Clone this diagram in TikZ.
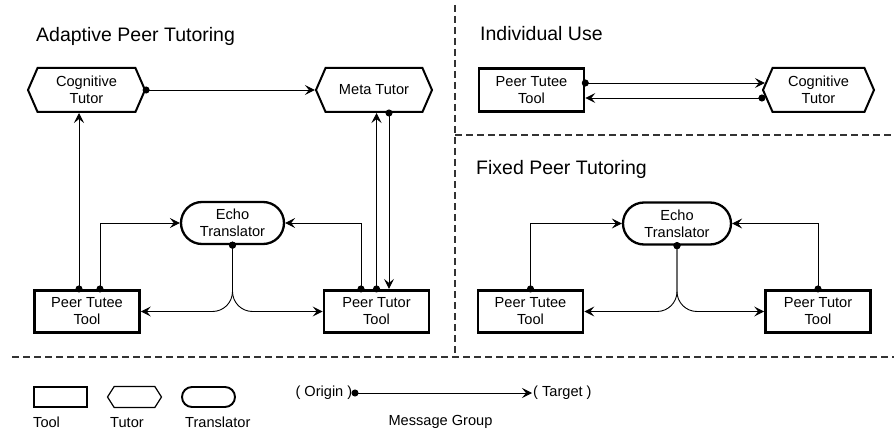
\documentclass[tikz,border=0pt]{standalone}
\usepackage{fontspec}
\setmainfont{Liberation Sans}
\usetikzlibrary{arrows.meta,shapes.misc,shapes.symbols,calc}
\tikzset{
  lbl/.style={font=\fontsize{14.6}{17}\selectfont, align=center},
  tool/.style={lbl, draw, line width=2.6pt, rectangle, inner sep=0pt,
    minimum width=105pt, minimum height=42.5pt},
  tutor/.style={lbl, draw, line width=2pt, shape=signal, signal to=east and west,
    signal pointer angle=133, inner sep=0pt, minimum height=44pt},
  translator/.style={lbl, draw, line width=2.3pt, rounded rectangle, inner sep=0pt,
    minimum height=42pt},
  msg/.style={line width=0.9pt,
    {Circle[length=7pt]}-{Stealth[length=10pt,width=10pt,inset=4pt]},
    shorten <=-3.5pt},
  divider/.style={line width=1.1pt, draw=black!80, dash pattern=on 7pt off 4pt},
  title/.style={font=\fontsize{19.5}{22}\selectfont, anchor=base west, inner sep=0pt},
  keylbl/.style={lbl, anchor=base west, inner sep=0pt},
}
\begin{document}
\begin{tikzpicture}[x=1pt, y=-1pt]
\useasboundingbox (0,0) rectangle (894,433);

% section dividers
\draw[divider] (455,5) -- (455,357);
\draw[divider] (12,357) -- (894,357);
\draw[divider] (455,135) -- (894,135);

% section titles
\node[title] (tA) at (36,42) {Adaptive Peer Tutoring};
\node[title] (tI) at (480,41) {Individual Use};
\node[title] (tF) at (476,175) {Fixed Peer Tutoring};

% ---- adaptive peer tutoring ----
\node[tutor, minimum width=117pt] (ctA) at (86.5,90) {Cognitive\\Tutor};
\node[tutor, minimum width=116pt] (mtA) at (374,90) {Meta Tutor};
\node[translator, minimum width=103pt] (echoA) at (232.5,223) {Echo\\Translator};
\node[tool] (tuteeA) at (87,311.5) {Peer Tutee\\Tool};
\node[tool] (tutorA) at (376.5,311.5) {Peer Tutor\\Tool};

\coordinate (a1) at ($(tuteeA.north)+(-8,0)$);
\coordinate (a2) at ($(tuteeA.north)+(13,0)$);
\coordinate (b1) at ($(tutorA.north)+(-15.5,0)$);
\coordinate (b2) at (tutorA.north);
\coordinate (c1) at ($(mtA.south)+(15,0)$);

\draw[msg] (ctA.east) -- (mtA.west);
\draw[msg] (a1) -- (a1 |- ctA.south);
\draw[msg] (a2) |- (echoA.west);
\draw[msg] (b1) |- (echoA.east);
\draw[msg] (b2) -- (b2 |- mtA.south);
\draw[msg] (c1) -- (c1 |- tutorA.north);
\draw[msg, rounded corners=20pt] (echoA.south) |- (tuteeA.east);
\draw[msg, rounded corners=20pt] (echoA.south) |- (tutorA.west);

% ---- individual use ----
\node[tool] (tuteeI) at (531.5,90) {Peer Tutee\\Tool};
\node[tutor, minimum width=111pt] (ctI) at (818.5,90) {Cognitive\\Tutor};

\coordinate (i1) at ($(tuteeI.east)+(0,-7)$);
\coordinate (i2) at ($(ctI.west)+(0,8)$);
\draw[msg] (i1) -- ($(i1 -| ctI.west)+(3,0)$);
\draw[msg] (i2) -- (i2 -| tuteeI.east);

% ---- fixed peer tutoring ----
\node[translator, minimum width=108pt] (echoF) at (677,223.5) {Echo\\Translator};
\node[tool] (tuteeF) at (530.5,311.5) {Peer Tutee\\Tool};
\node[tool] (tutorF) at (818,311.5) {Peer Tutor\\Tool};

\draw[msg] (tuteeF.north) |- (echoF.west);
\draw[msg] (tutorF.north) |- (echoF.east);
\draw[msg, rounded corners=20pt] (echoF.south) |- (tuteeF.east);
\draw[msg, rounded corners=20pt] (echoF.south) |- (tutorF.west);

% ---- legend ----
\node[tool, line width=1.8pt, minimum width=53pt, minimum height=20pt] (kTool) at (60.5,397) {};
\node[tutor, line width=1.2pt, signal pointer angle=115, minimum width=54pt,
      minimum height=21pt] (kTutor) at (134.5,397) {};
\node[translator, line width=1.9pt, minimum width=53pt, minimum height=20pt] (kTrans) at (208.5,397) {};
\node[keylbl] (kToolLbl) at (33,427) {Tool};
\node[keylbl] (kTutorLbl) at (110,427) {Tutor};
\node[keylbl] (kTransLbl) at (185,427) {Translator};

\node[lbl, anchor=east, inner xsep=2.5pt, inner ysep=0pt] (origin) at (355,393) {( Origin )};
\node[lbl, anchor=west, inner xsep=1pt, inner ysep=0pt] (target) at (532,393) {( Target )};
\draw[msg] (origin.east) -- (target.west);
\node[lbl, anchor=base, inner sep=0pt] (msgLbl) at (440.5,425) {Message Group};
\end{tikzpicture}
\end{document}
